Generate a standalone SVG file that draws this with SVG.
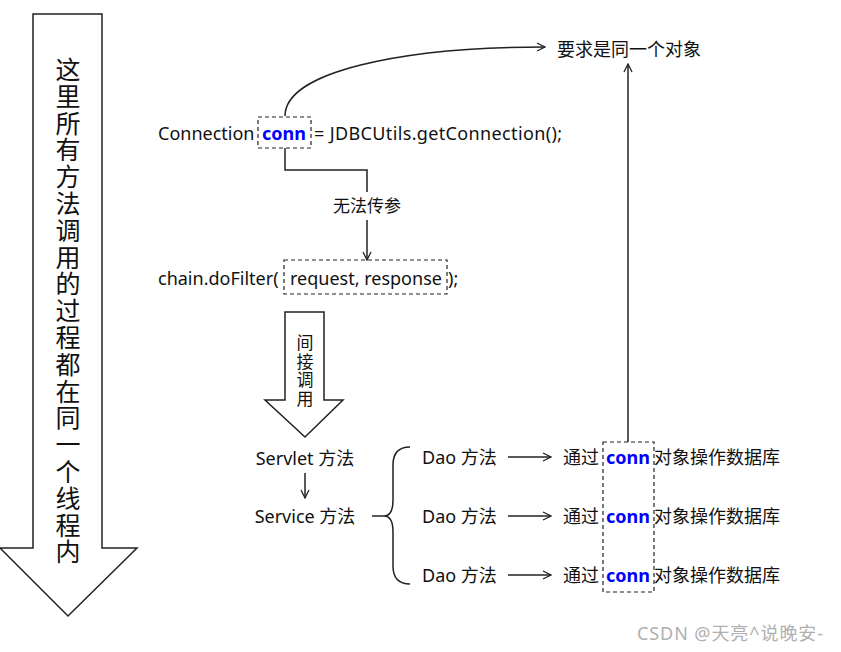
<svg xmlns="http://www.w3.org/2000/svg" width="841" height="652" viewBox="0 0 841 652">
<defs>
<style>
.t{font-family:"Noto Sans","Noto Sans CJK SC",sans-serif;font-size:18px;fill:#111;dominant-baseline:central}
.c{font-weight:bold;fill:#0000ff}
.ln{fill:none;stroke:#222;stroke-width:1.5}
.dash{fill:none;stroke:#222;stroke-width:1.2;stroke-dasharray:4,3}
.big{fill:#fff;stroke:#222;stroke-width:1.5}
.wm{font-family:"Noto Sans","Noto Sans CJK SC",sans-serif;font-size:18px;fill:#b0b0b0;dominant-baseline:central}
</style>
<marker id="ah" viewBox="0 0 10 10" refX="9" refY="5" markerWidth="10" markerHeight="10" markerUnits="userSpaceOnUse" orient="auto">
<path d="M1,1 L9,5 L1,9" fill="none" stroke="#222" stroke-width="1.3"/>
</marker>
</defs>
<rect width="841" height="652" fill="#fff"/>

<g id="thread-arrow">
<polygon class="big" points="33,14 102,14 102,548 137,548 68,616 0,548 33,548"/>
<text x="68" y="57" writing-mode="vertical-rl" style="font-family:'Noto Sans CJK SC','Noto Sans',sans-serif;font-size:25px;fill:#111;letter-spacing:1.8px">这里所有方法调用的过程都在同一个线程内</text>
</g>

<g id="connection-line">
<text class="t" x="158" y="133">Connection</text>
<rect class="dash" x="258" y="117" width="53" height="31"/>
<text class="t c" x="262" y="133">conn</text>
<text class="t" x="314" y="133" textLength="248" lengthAdjust="spacing">= JDBCUtils.getConnection();</text>
</g>

<g id="same-object">
<text class="t" x="557" y="49">要求是同一个对象</text>
</g>

<g id="no-param-label">
<text class="t" x="367" y="205" text-anchor="middle" style="font-size:17px">无法传参</text>
</g>

<g id="dofilter-line">
<text class="t" x="158" y="278">chain.doFilter(</text>
<rect class="dash" x="284" y="260" width="163" height="34"/>
<text class="t" x="290" y="278">request, response</text>
<text class="t" x="448" y="278">);</text>
</g>

<g id="indirect-arrow">
<polygon class="big" points="285,312 324,312 324,400 343,400 305,437 265,400 285,400"/>
<text x="305" y="334.5" writing-mode="vertical-rl" style="font-family:'Noto Sans CJK SC','Noto Sans',sans-serif;font-size:17px;fill:#111;letter-spacing:1.5px">间接调用</text>
</g>

<g id="servlet"><text class="t" x="305" y="458" text-anchor="middle">Servlet 方法</text></g>
<g id="service"><text class="t" x="305" y="516" text-anchor="middle">Service 方法</text></g>
<g id="dao1"><text class="t" x="422" y="457">Dao 方法</text></g>
<g id="dao2"><text class="t" x="422" y="516">Dao 方法</text></g>
<g id="dao3"><text class="t" x="422" y="575">Dao 方法</text></g>

<g id="db-ops">
<rect class="dash" x="603" y="442" width="51" height="150"/>
<text class="t" x="563" y="457">通过</text>
<text class="t c" x="606" y="457">conn</text>
<text class="t" x="654" y="457">对象操作数据库</text>
<text class="t" x="563" y="516">通过</text>
<text class="t c" x="606" y="516">conn</text>
<text class="t" x="654" y="516">对象操作数据库</text>
<text class="t" x="563" y="575">通过</text>
<text class="t c" x="606" y="575">conn</text>
<text class="t" x="654" y="575">对象操作数据库</text>
</g>

<g id="connectors">
<path class="ln" d="M285,116 C285,72 400,47 545,47" marker-end="url(#ah)"/>
<path class="ln" d="M285,148 L285,170 L367,170 L367,192"/>
<path class="ln" d="M367,220 L367,260" marker-end="url(#ah)"/>
<path class="ln" d="M305,473 L305,498" marker-end="url(#ah)"/>
<path class="ln" d="M372,516 L384,516"/>
<path class="ln" d="M410,447 Q393,447 393,465 L393,500 Q393,516 384,516 Q393,516 393,532 L393,566 Q393,584 410,584"/>
<path class="ln" d="M508,457 L551,457" marker-end="url(#ah)"/>
<path class="ln" d="M508,516 L551,516" marker-end="url(#ah)"/>
<path class="ln" d="M508,575 L551,575" marker-end="url(#ah)"/>
<path class="ln" d="M628,442 L628,64" marker-end="url(#ah)"/>
</g>

<text class="wm" x="637" y="633" textLength="186" lengthAdjust="spacing">CSDN @天亮^说晚安-</text>
</svg>
